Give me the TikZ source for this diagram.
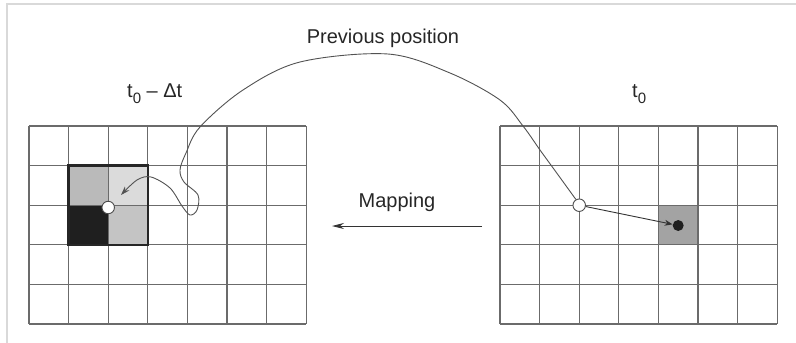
\documentclass[tikz,border=0pt]{standalone}
\usepackage{fontspec}
\setmainfont{Liberation Sans}
\usetikzlibrary{arrows.meta}
\newcommand{\subz}{\raisebox{-6pt}{\fontsize{15}{15}\selectfont 0}}
\begin{document}
\begin{tikzpicture}[x=1pt,y=-1pt,
  gridline/.style={draw=black!58,line width=1.1pt},
  boxline/.style={draw=black!85,line width=2.4pt},
  lbl/.style={font=\fontsize{20}{24}\selectfont, inner sep=0pt, text=black!85},
  curveline/.style={draw=black!68,line width=0.9pt},
  opendot/.style={circle,draw=black!70,fill=white,line width=0.9pt,minimum size=12.5pt,inner sep=0pt},
  filldot/.style={circle,fill=black!88,minimum size=11pt,inner sep=0pt}]
\useasboundingbox (0,0) rectangle (796,343);
% frame
\draw[black!15,line width=2pt] (7,343) -- (7,4) -- (796,4);
% left grid fills
\fill[black!27] (68.6,165.6) rectangle (108.2,205.2);
\fill[black!14] (108.2,165.6) rectangle (147.8,205.2);
\fill[black!88] (68.6,205.2) rectangle (108.2,244.8);
\fill[black!23] (108.2,205.2) rectangle (147.8,244.8);
% right grid fill
\fill[black!36] (658.4,205.2) rectangle (698,244.8);
% grids
\foreach \i in {0,...,7} {
  \draw[gridline] ({29+39.6*\i},126) -- ({29+39.6*\i},324);
  \draw[gridline] ({500+39.6*\i},126) -- ({500+39.6*\i},324);
}
\foreach \j in {0,...,5} {
  \draw[gridline] (29,{126+39.6*\j}) -- (306.2,{126+39.6*\j});
  \draw[gridline] (500,{126+39.6*\j}) -- (777.2,{126+39.6*\j});
}
\draw[boxline] (68.6,165.6) rectangle (147.8,244.8);
% labels
\node[lbl,anchor=base] (prev) at (383,43) {Previous position};
\node[lbl,anchor=base west] (tleft) at (127,97) {t\subz\ – Δt};
\node[lbl,anchor=base west] (tright) at (632,97) {t\subz};
\node[lbl,anchor=base] (map) at (397,207) {Mapping};
% mapping arrow
\coordinate (mapR) at (482,226);
\coordinate (mapL) at (332,226);
\draw[curveline,draw=black!80,-{Stealth[length=12pt,width=6pt]}] (mapR) -- (mapL);
% points
\node[opendot] (lc) at (108.2,207.5) {};
\node[opendot] (rc) at (579.2,205.2) {};
\node[filldot] (dot) at (678.2,225.5) {};
\draw[curveline,draw=black!80,-{Stealth[length=8pt,width=6pt]}] (rc) -- (dot);
% previous position curve
\coordinate (tipL) at (121,195);
\draw[curveline,-{Stealth[length=9pt,width=6pt]}] plot[smooth,tension=0.55] coordinates {
 (rc.120) (556,172) (540,150) (523,126) (500,100) (450,73) (388,54)
 (300,62) (243,90) (200,127) (186,153) (180,170) (184,182) (198,195)
 (197,210) (190,215) (182,206) (170,188) (151,177) (137,180) (tipL)};
\end{tikzpicture}
\end{document}
